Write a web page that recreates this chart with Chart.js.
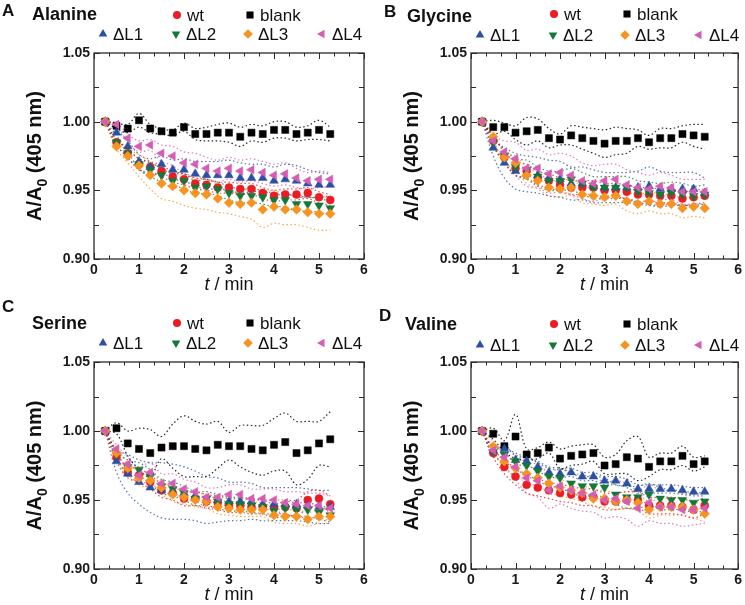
<!DOCTYPE html>
<html>
<head>
<meta charset="utf-8">
<script src="https://cdn.jsdelivr.net/npm/chart.js@4/dist/chart.umd.min.js"></script>
<style>
  body { margin: 0; background: #fff; }
  canvas { position: absolute; }
</style>
</head>
<body>
<canvas id="chartA" width="372" height="300" style="left:0;top:0"></canvas>
<canvas id="chartB" width="372" height="300" style="left:373px;top:0"></canvas>
<canvas id="chartC" width="372" height="305" style="left:0;top:300px"></canvas>
<canvas id="chartD" width="372" height="305" style="left:373px;top:300px"></canvas>
<script>
// sampling times (min)
const times = [0.25, 0.5, 0.75, 1, 1.25, 1.5, 1.75, 2, 2.25, 2.5, 2.75, 3, 3.25, 3.5, 3.75, 4, 4.25, 4.5, 4.75, 5, 5.25];
const seriesLabels = ["wt", "blank", "ΔL1", "ΔL2", "ΔL3", "ΔL4"];
const xTickValues = [0, 1, 2, 3, 4, 5, 6];
const yTickValues = [0.90, 0.95, 1.00, 1.05];

// Alanine
const alaWt    = [1.000, 0.985, 0.977, 0.969, 0.967, 0.964, 0.960, 0.958, 0.955, 0.954, 0.952, 0.952, 0.951, 0.951, 0.948, 0.946, 0.947, 0.947, 0.948, 0.945, 0.943];
const alaBlank = [1.000, 0.997, 0.995, 1.001, 0.995, 0.993, 0.992, 0.996, 0.991, 0.991, 0.992, 0.992, 0.989, 0.992, 0.991, 0.994, 0.994, 0.991, 0.992, 0.994, 0.991];
const alaL1    = [1.000, 0.992, 0.982, 0.971, 0.967, 0.969, 0.965, 0.965, 0.962, 0.961, 0.961, 0.961, 0.959, 0.959, 0.959, 0.957, 0.958, 0.957, 0.955, 0.954, 0.954];
const alaL2    = [1.000, 0.985, 0.977, 0.969, 0.965, 0.961, 0.957, 0.957, 0.952, 0.953, 0.951, 0.948, 0.946, 0.946, 0.945, 0.943, 0.943, 0.940, 0.940, 0.939, 0.937];
const alaL3    = [1.000, 0.982, 0.975, 0.968, 0.961, 0.955, 0.953, 0.950, 0.948, 0.947, 0.944, 0.941, 0.940, 0.941, 0.936, 0.938, 0.936, 0.936, 0.934, 0.933, 0.933];
const alaL4    = [1.000, 0.998, 0.988, 0.982, 0.983, 0.977, 0.975, 0.970, 0.969, 0.966, 0.964, 0.966, 0.964, 0.965, 0.963, 0.961, 0.962, 0.959, 0.957, 0.958, 0.958];
const alaWtSd    = [0, 0.002, 0.003, 0.004, 0.004, 0.004, 0.004, 0.004, 0.004, 0.004, 0.004, 0.004, 0.004, 0.004, 0.004, 0.004, 0.004, 0.004, 0.004, 0.004, 0.004];
const alaBlankSd = [0, 0.002, 0.003, 0.005, 0.003, 0.002, 0.002, 0.003, 0.004, 0.005, 0.006, 0.007, 0.007, 0.006, 0.006, 0.006, 0.006, 0.005, 0.005, 0.007, 0.005];
const alaL1Sd    = [0, 0.002, 0.004, 0.005, 0.006, 0.006, 0.007, 0.008, 0.009, 0.010, 0.010, 0.011, 0.011, 0.010, 0.010, 0.010, 0.011, 0.011, 0.010, 0.009, 0.008];
const alaL2Sd    = [0, 0.002, 0.003, 0.004, 0.005, 0.005, 0.005, 0.005, 0.005, 0.005, 0.005, 0.005, 0.005, 0.005, 0.005, 0.005, 0.005, 0.005, 0.005, 0.005, 0.005];
const alaL3Sd    = [0, 0.002, 0.005, 0.008, 0.010, 0.011, 0.011, 0.011, 0.011, 0.011, 0.010, 0.008, 0.009, 0.012, 0.013, 0.012, 0.011, 0.011, 0.011, 0.012, 0.012];
const alaL4Sd    = [0, 0.001, 0.003, 0.004, 0.004, 0.006, 0.007, 0.008, 0.008, 0.008, 0.008, 0.008, 0.008, 0.008, 0.008, 0.008, 0.008, 0.007, 0.006, 0.006, 0.005];

// Glycine
const glyWt    = [1.000, 0.986, 0.974, 0.966, 0.964, 0.959, 0.957, 0.954, 0.952, 0.952, 0.952, 0.950, 0.950, 0.949, 0.947, 0.947, 0.946, 0.946, 0.944, 0.945, 0.946];
const glyBlank = [1.000, 0.996, 0.996, 0.992, 0.993, 0.994, 0.988, 0.987, 0.990, 0.988, 0.986, 0.984, 0.986, 0.986, 0.988, 0.985, 0.988, 0.988, 0.991, 0.990, 0.989];
const glyL1    = [1.000, 0.981, 0.970, 0.964, 0.962, 0.961, 0.959, 0.958, 0.955, 0.955, 0.953, 0.952, 0.952, 0.952, 0.952, 0.953, 0.951, 0.951, 0.951, 0.951, 0.948];
const glyL2    = [1.000, 0.985, 0.975, 0.967, 0.965, 0.960, 0.957, 0.957, 0.958, 0.955, 0.952, 0.952, 0.952, 0.952, 0.949, 0.948, 0.947, 0.948, 0.947, 0.946, 0.947];
const glyL3    = [1.000, 0.989, 0.974, 0.970, 0.961, 0.957, 0.952, 0.951, 0.952, 0.947, 0.946, 0.945, 0.946, 0.942, 0.940, 0.942, 0.940, 0.940, 0.937, 0.938, 0.937];
const glyL4    = [1.000, 0.986, 0.978, 0.973, 0.966, 0.966, 0.962, 0.963, 0.961, 0.957, 0.955, 0.957, 0.958, 0.954, 0.952, 0.951, 0.953, 0.952, 0.949, 0.949, 0.949];
const glyWtSd    = [0, 0.003, 0.004, 0.005, 0.005, 0.005, 0.005, 0.005, 0.005, 0.005, 0.005, 0.005, 0.005, 0.005, 0.005, 0.005, 0.005, 0.005, 0.005, 0.005, 0.005];
const glyBlankSd = [0, 0.005, 0.003, 0.005, 0.010, 0.008, 0.007, 0.004, 0.007, 0.008, 0.009, 0.010, 0.010, 0.009, 0.006, 0.005, 0.007, 0.007, 0.006, 0.008, 0.009];
const glyL1Sd    = [0, 0.006, 0.011, 0.013, 0.013, 0.013, 0.013, 0.013, 0.012, 0.012, 0.012, 0.011, 0.011, 0.011, 0.012, 0.014, 0.013, 0.012, 0.012, 0.012, 0.011];
const glyL2Sd    = [0, 0.003, 0.005, 0.006, 0.007, 0.007, 0.007, 0.007, 0.008, 0.008, 0.008, 0.008, 0.008, 0.008, 0.008, 0.008, 0.008, 0.008, 0.008, 0.007, 0.007];
const glyL3Sd    = [0, 0.002, 0.004, 0.005, 0.006, 0.006, 0.006, 0.006, 0.006, 0.006, 0.006, 0.006, 0.006, 0.007, 0.007, 0.007, 0.007, 0.007, 0.007, 0.007, 0.007];
const glyL4Sd    = [0, 0.004, 0.008, 0.012, 0.013, 0.014, 0.014, 0.014, 0.014, 0.013, 0.013, 0.012, 0.011, 0.011, 0.011, 0.010, 0.010, 0.009, 0.009, 0.009, 0.009];

// Serine
const serWt    = [1.000, 0.981, 0.970, 0.968, 0.963, 0.957, 0.955, 0.951, 0.951, 0.949, 0.948, 0.946, 0.946, 0.945, 0.945, 0.945, 0.945, 0.944, 0.950, 0.951, 0.947];
const serBlank = [1.000, 1.002, 0.991, 0.987, 0.984, 0.988, 0.989, 0.989, 0.987, 0.986, 0.990, 0.989, 0.989, 0.987, 0.986, 0.990, 0.992, 0.984, 0.986, 0.991, 0.994];
const serL1    = [1.000, 0.978, 0.969, 0.963, 0.959, 0.957, 0.956, 0.955, 0.953, 0.950, 0.950, 0.949, 0.949, 0.949, 0.947, 0.947, 0.947, 0.947, 0.946, 0.945, 0.945];
const serL2    = [1.000, 0.983, 0.974, 0.972, 0.967, 0.960, 0.958, 0.955, 0.951, 0.951, 0.949, 0.947, 0.947, 0.946, 0.945, 0.942, 0.944, 0.943, 0.943, 0.941, 0.939];
const serL3    = [1.000, 0.984, 0.973, 0.966, 0.964, 0.959, 0.954, 0.952, 0.950, 0.949, 0.945, 0.944, 0.943, 0.943, 0.943, 0.939, 0.938, 0.938, 0.936, 0.938, 0.938];
const serL4    = [1.000, 0.987, 0.976, 0.968, 0.970, 0.962, 0.962, 0.958, 0.956, 0.952, 0.952, 0.954, 0.954, 0.951, 0.951, 0.950, 0.948, 0.947, 0.946, 0.946, 0.944];
const serWtSd    = [0, 0.003, 0.004, 0.005, 0.005, 0.005, 0.005, 0.005, 0.005, 0.005, 0.005, 0.005, 0.005, 0.005, 0.005, 0.005, 0.005, 0.006, 0.006, 0.006, 0.006];
const serBlankSd = [0, 0.004, 0.009, 0.015, 0.017, 0.008, 0.016, 0.022, 0.020, 0.019, 0.017, 0.010, 0.015, 0.017, 0.018, 0.019, 0.021, 0.023, 0.021, 0.016, 0.020];
const serL1Sd    = [0, 0.008, 0.014, 0.016, 0.018, 0.020, 0.020, 0.019, 0.018, 0.017, 0.016, 0.014, 0.014, 0.013, 0.012, 0.012, 0.012, 0.012, 0.012, 0.012, 0.012];
const serL2Sd    = [0, 0.003, 0.005, 0.005, 0.005, 0.005, 0.005, 0.005, 0.005, 0.005, 0.005, 0.005, 0.005, 0.005, 0.005, 0.005, 0.005, 0.005, 0.005, 0.005, 0.005];
const serL3Sd    = [0, 0.003, 0.004, 0.005, 0.005, 0.005, 0.005, 0.005, 0.005, 0.005, 0.005, 0.005, 0.005, 0.005, 0.005, 0.005, 0.005, 0.005, 0.005, 0.005, 0.005];
const serL4Sd    = [0, 0.003, 0.005, 0.006, 0.007, 0.007, 0.007, 0.007, 0.007, 0.007, 0.007, 0.007, 0.007, 0.007, 0.007, 0.008, 0.008, 0.009, 0.009, 0.009, 0.009];

// Valine
const valWt    = [1.000, 0.984, 0.974, 0.967, 0.961, 0.959, 0.957, 0.955, 0.954, 0.952, 0.952, 0.949, 0.949, 0.950, 0.950, 0.946, 0.946, 0.946, 0.945, 0.943, 0.946];
const valBlank = [1.000, 0.998, 0.989, 0.996, 0.983, 0.984, 0.988, 0.980, 0.982, 0.983, 0.984, 0.975, 0.976, 0.981, 0.980, 0.974, 0.978, 0.978, 0.982, 0.976, 0.978];
const valL1    = [1.000, 0.986, 0.987, 0.979, 0.978, 0.974, 0.970, 0.969, 0.970, 0.967, 0.967, 0.964, 0.964, 0.962, 0.958, 0.958, 0.958, 0.958, 0.957, 0.956, 0.956];
const valL2    = [1.000, 0.985, 0.983, 0.978, 0.975, 0.971, 0.967, 0.966, 0.962, 0.960, 0.960, 0.959, 0.954, 0.952, 0.952, 0.954, 0.951, 0.950, 0.950, 0.948, 0.949];
const valL3    = [1.000, 0.989, 0.978, 0.973, 0.969, 0.966, 0.962, 0.959, 0.957, 0.955, 0.951, 0.951, 0.949, 0.950, 0.948, 0.943, 0.945, 0.945, 0.945, 0.943, 0.940];
const valL4    = [1.000, 0.986, 0.981, 0.974, 0.966, 0.964, 0.957, 0.960, 0.957, 0.955, 0.954, 0.950, 0.951, 0.949, 0.944, 0.948, 0.945, 0.945, 0.943, 0.943, 0.944];
const valWtSd    = [0, 0.003, 0.005, 0.006, 0.006, 0.006, 0.006, 0.006, 0.006, 0.006, 0.006, 0.006, 0.006, 0.006, 0.006, 0.006, 0.006, 0.006, 0.006, 0.006, 0.006];
const valBlankSd = [0, 0.004, 0.004, 0.016, 0.004, 0.004, 0.004, 0.007, 0.007, 0.007, 0.006, 0.006, 0.007, 0.012, 0.016, 0.007, 0.006, 0.006, 0.007, 0.005, 0.004];
const valL1Sd    = [0, 0.002, 0.003, 0.003, 0.003, 0.003, 0.003, 0.003, 0.003, 0.003, 0.003, 0.003, 0.003, 0.003, 0.003, 0.003, 0.003, 0.003, 0.003, 0.003, 0.003];
const valL2Sd    = [0, 0.003, 0.005, 0.006, 0.006, 0.007, 0.007, 0.007, 0.007, 0.007, 0.007, 0.007, 0.007, 0.008, 0.008, 0.008, 0.008, 0.007, 0.007, 0.007, 0.007];
const valL3Sd    = [0, 0.003, 0.005, 0.006, 0.006, 0.006, 0.006, 0.006, 0.006, 0.006, 0.006, 0.006, 0.006, 0.006, 0.006, 0.006, 0.006, 0.006, 0.006, 0.006, 0.006];
const valL4Sd    = [0, 0.003, 0.006, 0.009, 0.011, 0.012, 0.013, 0.013, 0.013, 0.013, 0.013, 0.013, 0.013, 0.013, 0.013, 0.013, 0.012, 0.012, 0.012, 0.011, 0.011];

// marker look per series, same order as seriesLabels
const markerStyles = [
  { color: "#ec1c24", band: "rgba(236,28,36,0.8)",   pointStyle: "circle",   radius: 4,   rotation: 0,   order: 6 },
  { color: "#000000", band: "rgba(0,0,0,0.85)",      pointStyle: "rect",     radius: 5,   rotation: 0,   order: 5 },
  { color: "#2b50a3", band: "rgba(43,80,163,0.8)",   pointStyle: "triangle", radius: 5,   rotation: 0,   order: 4 },
  { color: "#13783a", band: "rgba(19,120,58,0.8)",   pointStyle: "triangle", radius: 5,   rotation: 180, order: 3 },
  { color: "#f7931e", band: "rgba(247,147,30,0.8)",  pointStyle: "rectRot",  radius: 4.8, rotation: 0,   order: 2 },
  { color: "#d55db2", band: "rgba(213,93,178,0.8)",  pointStyle: "triangle", radius: 5,   rotation: -90, order: 1 },
];
// legend marker offsets from plot left, row (0 = title row)
const legendSlots = [[83, 0], [156, 0], [9, 1], [82, 1], [154, 1], [228, 1]];

const panels = [
  { id: "chartA", letter: "A", title: "Alanine", area: { left: 94, right: 364, top: 53, bottom: 259 },
    letterPos: [2, 11], titlePos: [32, 15], rows: [15, 34],
    means: [alaWt, alaBlank, alaL1, alaL2, alaL3, alaL4], sds: [alaWtSd, alaBlankSd, alaL1Sd, alaL2Sd, alaL3Sd, alaL4Sd] },
  { id: "chartB", letter: "B", title: "Glycine", area: { left: 98, right: 368, top: 53, bottom: 259 },
    letterPos: [11, 12], titlePos: [34, 17], rows: [14, 35],
    means: [glyWt, glyBlank, glyL1, glyL2, glyL3, glyL4], sds: [glyWtSd, glyBlankSd, glyL1Sd, glyL2Sd, glyL3Sd, glyL4Sd] },
  { id: "chartC", letter: "C", title: "Serine", area: { left: 94, right: 364, top: 62, bottom: 269 },
    letterPos: [2, 7], titlePos: [32, 24], rows: [23, 43],
    means: [serWt, serBlank, serL1, serL2, serL3, serL4], sds: [serWtSd, serBlankSd, serL1Sd, serL2Sd, serL3Sd, serL4Sd] },
  { id: "chartD", letter: "D", title: "Valine", area: { left: 98, right: 368, top: 62, bottom: 269 },
    letterPos: [6, 16], titlePos: [32, 25], rows: [24, 45],
    means: [valWt, valBlank, valL1, valL2, valL3, valL4], sds: [valWtSd, valBlankSd, valL1Sd, valL2Sd, valL3Sd, valL4Sd] },
];

const FONT = "'Liberation Sans', Arial, sans-serif";
Chart.defaults.font.family = FONT;
Chart.defaults.color = "#1a1a1a";

function drawMarker(ctx, s, cx, cy) {
  const r = s.radius;
  ctx.save();
  ctx.translate(cx, cy);
  ctx.rotate((s.rotation * Math.PI) / 180);
  ctx.fillStyle = s.color;
  ctx.beginPath();
  if (s.pointStyle === "circle") {
    ctx.arc(0, 0, r, 0, Math.PI * 2);
  } else if (s.pointStyle === "rect") {
    const h = r * Math.SQRT1_2;
    ctx.rect(-h, -h, 2 * h, 2 * h);
  } else if (s.pointStyle === "rectRot") {
    ctx.moveTo(0, -r); ctx.lineTo(r, 0); ctx.lineTo(0, r); ctx.lineTo(-r, 0); ctx.closePath();
  } else {
    ctx.moveTo(0, -r); ctx.lineTo(r * 0.866, r * 0.5); ctx.lineTo(-r * 0.866, r * 0.5); ctx.closePath();
  }
  ctx.fill();
  ctx.restore();
}

function panelDecor(panel) {
  return {
    id: "panelDecor",
    afterDatasetsDraw(chart) {
      const { ctx, chartArea: a, scales } = chart;
      const x = scales.x, y = scales.y;
      ctx.save();
      ctx.strokeStyle = "#2a2a2a";
      ctx.lineWidth = 1.3;
      ctx.strokeRect(a.left, a.top, a.right - a.left, a.bottom - a.top);
      ctx.lineWidth = 1;
      ctx.beginPath();
      for (let k = 0; k <= 18; k++) {
        const px = Math.round(x.getPixelForValue(k / 3)) + 0.5;
        const len = k % 3 === 0 ? 6 : 3.5;
        ctx.moveTo(px, a.bottom); ctx.lineTo(px, a.bottom - len);
        ctx.moveTo(px, a.top); ctx.lineTo(px, a.top + len);
      }
      for (let k = 0; k <= 6; k++) {
        const py = Math.round(y.getPixelForValue(0.9 + k * 0.025)) + 0.5;
        const len = k % 2 === 0 ? 6 : 5;
        ctx.moveTo(a.left, py); ctx.lineTo(a.left + len, py);
        ctx.moveTo(a.right, py); ctx.lineTo(a.right - len, py);
      }
      ctx.stroke();
      ctx.restore();
    },
    afterDraw(chart) {
      const { ctx, chartArea: a } = chart;
      ctx.save();
      ctx.fillStyle = "#111";
      ctx.textBaseline = "middle";
      // panel letter and title
      ctx.font = "bold 17px " + FONT;
      ctx.fillText(panel.letter, panel.letterPos[0], panel.letterPos[1]);
      ctx.font = "bold 18px " + FONT;
      ctx.fillText(panel.title, panel.titlePos[0], panel.titlePos[1]);
      // legend
      ctx.font = "17px " + FONT;
      seriesLabels.forEach((label, i) => {
        const [dx, row] = legendSlots[i];
        const mx = a.left + dx, my = panel.rows[row];
        drawMarker(ctx, markerStyles[i], mx, my);
        ctx.fillStyle = "#111";
        ctx.fillText(label, mx + 10, my + 1);
      });
      // y axis title with subscript
      const cx = a.left - 59, cy = (a.top + a.bottom) / 2;
      ctx.translate(cx, cy);
      ctx.rotate(-Math.PI / 2);
      ctx.textBaseline = "alphabetic";
      const big = "bold 20px " + FONT, small = "bold 14px " + FONT;
      ctx.font = big;
      const w1 = ctx.measureText("A/A").width;
      const w3 = ctx.measureText(" (405 nm)").width;
      ctx.font = small;
      const w2 = ctx.measureText("0").width;
      let tx = -(w1 + w2 + w3) / 2;
      ctx.font = big;
      ctx.fillText("A/A", tx, 6);
      ctx.font = small;
      ctx.fillText("0", tx + w1, 12);
      ctx.font = big;
      ctx.fillText(" (405 nm)", tx + w1 + w2, 6);
      ctx.setTransform(1, 0, 0, 1, 0, 0);
      // x axis title
      const it = "italic 18px " + FONT, rg = "18px " + FONT;
      ctx.font = it;
      const wt = ctx.measureText("t").width;
      ctx.font = rg;
      const wr = ctx.measureText(" / min").width;
      const sx = (a.left + a.right) / 2 - (wt + wr) / 2;
      ctx.font = it;
      ctx.fillText("t", sx, a.bottom + 31);
      ctx.font = rg;
      ctx.fillText(" / min", sx + wt, a.bottom + 31);
      ctx.restore();
    },
  };
}

function buildDatasets(panel) {
  const sets = [];
  markerStyles.forEach((s, i) => {
    const mean = panel.means[i], sd = panel.sds[i];
    sets.push({
      label: seriesLabels[i],
      data: times.map((t, j) => ({ x: t, y: mean[j] })),
      pointStyle: s.pointStyle,
      rotation: s.rotation,
      pointRadius: s.radius,
      backgroundColor: s.color,
      borderColor: s.color,
      borderWidth: 0.5,
      showLine: false,
      order: s.order,
    });
    [1, -1].forEach((sign) => {
      sets.push({
        label: seriesLabels[i] + (sign > 0 ? " +SD" : " -SD"),
        data: times.map((t, j) => ({ x: t, y: mean[j] + sign * sd[j] })),
        showLine: true,
        borderColor: s.band,
        borderWidth: 1.2,
        borderDash: [1.5, 2.5],
        pointRadius: 0,
        tension: 0.35,
        fill: false,
        order: 20 + i,
      });
    });
  });
  return sets;
}

panels.forEach((panel) => {
  const canvas = document.getElementById(panel.id);
  const a = panel.area;
  const axisH = 34;
  new Chart(canvas.getContext("2d"), {
    type: "scatter",
    data: { datasets: buildDatasets(panel) },
    options: {
      responsive: false,
      animation: false,
      events: [],
      layout: {
        padding: { left: 0, top: a.top, right: canvas.width - a.right, bottom: canvas.height - a.bottom - axisH },
      },
      plugins: { legend: { display: false }, tooltip: { enabled: false } },
      scales: {
        x: {
          type: "linear",
          min: 0,
          max: 6,
          afterFit: (scale) => { scale.height = axisH; },
          afterBuildTicks: (scale) => { scale.ticks = xTickValues.map((v) => ({ value: v })); },
          grid: { display: false, drawTicks: false },
          border: { display: false },
          ticks: { padding: 3, maxRotation: 0, font: { size: 14, weight: "bold" }, color: "#1a1a1a", callback: (v) => String(v) },
        },
        y: {
          type: "linear",
          min: 0.9,
          max: 1.05,
          afterFit: (scale) => { scale.width = a.left; },
          afterBuildTicks: (scale) => { scale.ticks = yTickValues.map((v) => ({ value: v })); },
          grid: { display: false, drawTicks: false },
          border: { display: false },
          ticks: { padding: 4, font: { size: 14, weight: "bold" }, color: "#1a1a1a", callback: (v) => v.toFixed(2) },
        },
      },
    },
    plugins: [panelDecor(panel)],
  });
});
</script>
</body>
</html>
